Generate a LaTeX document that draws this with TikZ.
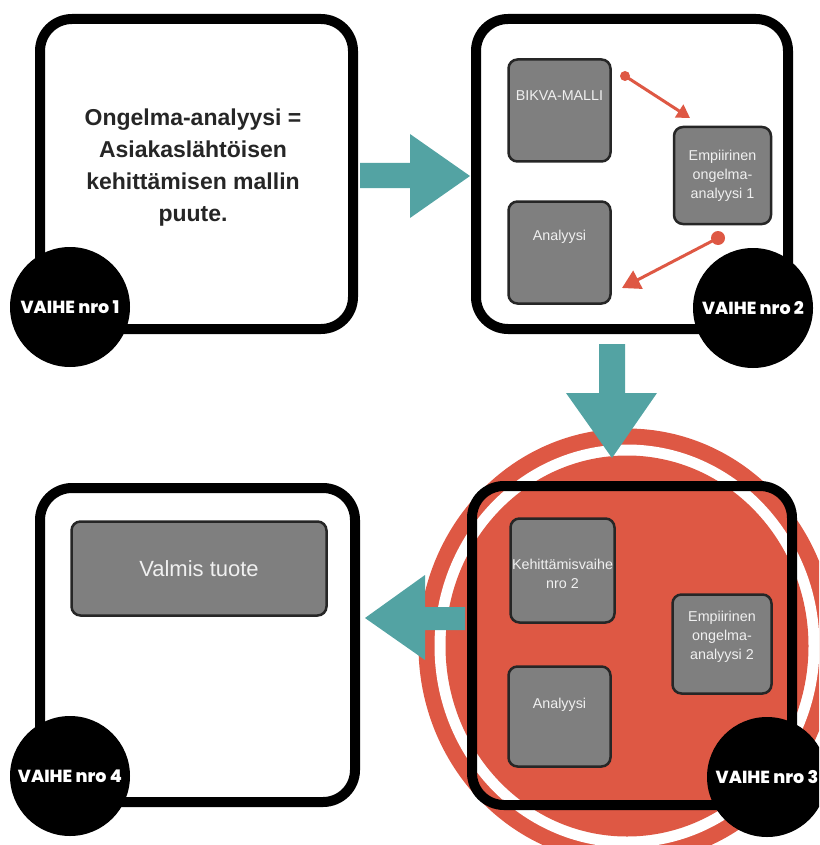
\documentclass[tikz,border=0pt]{standalone}
\usepackage{fontspec}
\setmainfont{Liberation Sans}
\newfontfamily\vaihefont{Poppins ExtraBold}
\usetikzlibrary{arrows.meta}
\definecolor{tealc}{RGB}{83,163,163}
\definecolor{redc}{RGB}{222,88,68}
\definecolor{grayc}{RGB}{127,127,127}
\definecolor{graytext}{RGB}{240,240,240}
\tikzset{
  bigbox/.style={draw=black, line width=10pt, rounded corners=32pt, inner sep=0pt},
  graybox/.style={draw=black!85, fill=grayc, line width=2.5pt, rounded corners=9pt, inner sep=0pt},
  graylabel/.style={text=graytext, font=\fontsize{14.3}{19}\selectfont, align=center, inner sep=0pt},
  stepcircle/.style={circle, fill=black, minimum size=120pt, inner sep=0pt, text=white, font=\vaihefont\fontsize{17.5}{20}\selectfont},
  reddot/.style={circle, fill=redc, inner sep=0pt},
  redarrow/.style={draw=redc, line width=3pt, -{Triangle[length=13pt,width=15pt]}},
  tealarrow/.style={fill=tealc},
}
\begin{document}
\begin{tikzpicture}[x=1pt,y=-1pt]
\useasboundingbox (0,0) rectangle (819,845);
\clip (0,0) rectangle (819,845);
% red target behind stage 3
\fill[redc] (627,646) ellipse[x radius=208.5, y radius=217.5];
\fill[white] (627,646) ellipse[x radius=192.5, y radius=201.5];
\fill[redc] (627,646) ellipse[x radius=181.5, y radius=190.5];
% stage boxes
\node[bigbox, fill=white, minimum width=313pt, minimum height=310pt] (box1) at (196.5,174) {};
\node[bigbox, fill=white, minimum width=312pt, minimum height=310pt] (box2) at (632,174) {};
\node[bigbox, minimum width=320pt, minimum height=319pt] (box3) at (632,645.5) {};
\node[bigbox, fill=white, minimum width=315pt, minimum height=314pt] (box4) at (197.5,645) {};
% stage 1 text
\node[font=\bfseries\fontsize{23}{32}\selectfont, text=black!85, align=center, inner sep=0pt] (t1) at (193,168)
  {Ongelma-analyysi =\\ Asiakaslähtöisen\\ kehittämisen mallin\\ puute.};
% stage 2 inner boxes
\node[graybox, minimum width=102pt, minimum height=102pt] (b2a) at (559.5,110.5) {};
\node[graylabel] (l2a) at ([yshift=-37pt]b2a.north) {BIKVA-MALLI};
\node[graybox, minimum width=97pt, minimum height=97pt] (b2b) at (722.5,175.5) {};
\node[graylabel] (l2b) at (b2b.center) {Empiirinen\\ongelma-\\analyysi 1};
\node[graybox, minimum width=102pt, minimum height=102pt] (b2c) at (559.5,252.5) {};
\node[graylabel] (l2c) at ([yshift=-37pt]b2c.north) {Analyysi};
% red arrows in stage 2
\node[reddot, minimum size=10pt] (d1) at (625,76) {};
\coordinate (e1) at (690,118);
\draw[redarrow] (d1.center) -- (e1);
\node[reddot, minimum size=14pt] (d2) at (718,238) {};
\coordinate (e2) at (622,288);
\draw[redarrow, -{Triangle[length=18pt,width=20pt]}] (d2.center) -- (e2);
% stage 3 inner boxes
\node[graybox, minimum width=104pt, minimum height=104pt] (b3a) at (562.5,570.5) {};
\node[graylabel] (l3a) at ([yshift=-3pt]b3a.center) {Kehittämisvaihe\\nro 2};
\node[graybox, minimum width=99pt, minimum height=99pt] (b3b) at (722,644) {};
\node[graylabel] (l3b) at ([yshift=7pt]b3b.center) {Empiirinen\\ongelma-\\analyysi 2};
\node[graybox, minimum width=102pt, minimum height=100pt] (b3c) at (559.5,716.5) {};
\node[graylabel] (l3c) at ([yshift=-40pt]b3c.north) {Analyysi};
% stage 4 box
\node[graybox, minimum width=255pt, minimum height=94pt] (b4a) at (199,568.5) {};
\node[graylabel, font=\fontsize{22}{26}\selectfont] (l4a) at (b4a.center) {Valmis tuote};
% teal block arrows
\fill[tealarrow] (360,163) -- (410,163) -- (410,134) -- (470,176) -- (410,218) -- (410,188) -- (360,188) -- cycle;
\fill[tealarrow] (599,344) -- (625,344) -- (625,393) -- (657,393) -- (612,458) -- (566,393) -- (599,393) -- cycle;
\fill[tealarrow] (465,607) -- (425,607) -- (425,575) -- (365,618) -- (425,660) -- (425,630) -- (465,630) -- cycle;
% stage circles
\node[stepcircle] (c1) at (70,307) {VAIHE nro 1};
\node[stepcircle] (c2) at (753,308) {VAIHE nro 2};
\node[stepcircle] (c3) at (767,777) {VAIHE nro 3};
\node[stepcircle] (c4) at (70,776) {VAIHE nro 4};
\end{tikzpicture}
\end{document}
